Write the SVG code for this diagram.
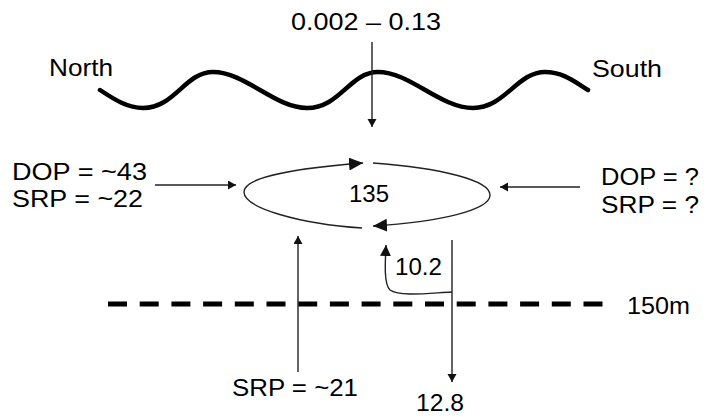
<svg xmlns="http://www.w3.org/2000/svg" width="707" height="417" viewBox="0 0 707 417">
<style>
text{font-family:"Liberation Sans",Arial,sans-serif;font-size:24px;fill:#000}
.ln{fill:none;stroke:#222;stroke-width:1.4}
.wave{fill:none;stroke:#000;stroke-width:4.5;stroke-linecap:round}
.dash{fill:none;stroke:#000;stroke-width:5;stroke-dasharray:19 12.7}
</style>
<defs>
<marker id="sm" markerUnits="userSpaceOnUse" markerWidth="10" markerHeight="10" refX="8" refY="4.5" orient="auto"><path d="M0,0 L8,4.5 L0,9 Z" fill="#111"/></marker>
<marker id="md" markerUnits="userSpaceOnUse" markerWidth="12" markerHeight="12" refX="11" refY="5.5" orient="auto"><path d="M0,0 L11,5.5 L0,11 Z" fill="#111"/></marker>
<marker id="lg" markerUnits="userSpaceOnUse" markerWidth="16" markerHeight="14" refX="14" refY="6.5" orient="auto"><path d="M0,0 L14,6.5 L0,13 Z" fill="#111"/></marker>
</defs>
<rect width="707" height="417" fill="#fff"/>
<g id="surface">
<path class="wave" d="M100,90 C115,100 128,108 143,108 C175,108 185,72 213,72 C245,72 275,108 307,108 C340,108 350,72 378,72 C410,72 440,108 473,108 C505,108 517,72 545,72 C563,72 575,82 588,90"/>
<text x="49" y="76" textLength="64" lengthAdjust="spacingAndGlyphs">North</text>
<text x="592" y="77" textLength="70" lengthAdjust="spacingAndGlyphs">South</text>
</g>
<g id="atmos"><text x="291" y="30" textLength="150" lengthAdjust="spacingAndGlyphs">0.002 – 0.13</text></g>
<g id="pool"><text x="349" y="202" textLength="40" lengthAdjust="spacingAndGlyphs">135</text></g>
<g id="north-input">
<text x="12" y="180" textLength="135" lengthAdjust="spacingAndGlyphs">DOP = ~43</text>
<text x="12" y="207" textLength="131" lengthAdjust="spacingAndGlyphs">SRP = ~22</text>
</g>
<g id="south-input">
<text x="601" y="185" textLength="98" lengthAdjust="spacingAndGlyphs">DOP = ?</text>
<text x="601" y="213" textLength="98" lengthAdjust="spacingAndGlyphs">SRP = ?</text>
</g>
<g id="recycle"><text x="395" y="275" textLength="47" lengthAdjust="spacingAndGlyphs">10.2</text></g>
<g id="depth">
<path class="dash" d="M108,304 H603"/>
<text x="627" y="314" textLength="63" lengthAdjust="spacingAndGlyphs">150m</text>
</g>
<g id="upwelling"><text x="232" y="396" textLength="126" lengthAdjust="spacingAndGlyphs">SRP = ~21</text></g>
<g id="export"><text x="416" y="411" font-size="23" textLength="48" lengthAdjust="spacingAndGlyphs">12.8</text></g>
<g id="connectors">
<path class="ln" d="M372,42 V127" marker-end="url(#sm)"/>
<path class="ln" d="M155,185 H236" marker-end="url(#sm)"/>
<path class="ln" d="M580,187 H500" marker-end="url(#sm)"/>
<path class="ln" d="M362,228 C300,224 244,208 244,192 C244,176 300,168 363,163" marker-end="url(#lg)"/>
<path class="ln" d="M373,163 C440,168 490,180 490,195 C490,210 440,222 373,226" marker-end="url(#lg)"/>
<path class="ln" d="M298,372 V236" marker-end="url(#sm)"/>
<path class="ln" d="M452,240 V382" marker-end="url(#sm)"/>
<path class="ln" d="M452,292 C430,293 400,297 390,290 C384,284 385,265 386,245" marker-end="url(#md)"/>
</g>
</svg>
